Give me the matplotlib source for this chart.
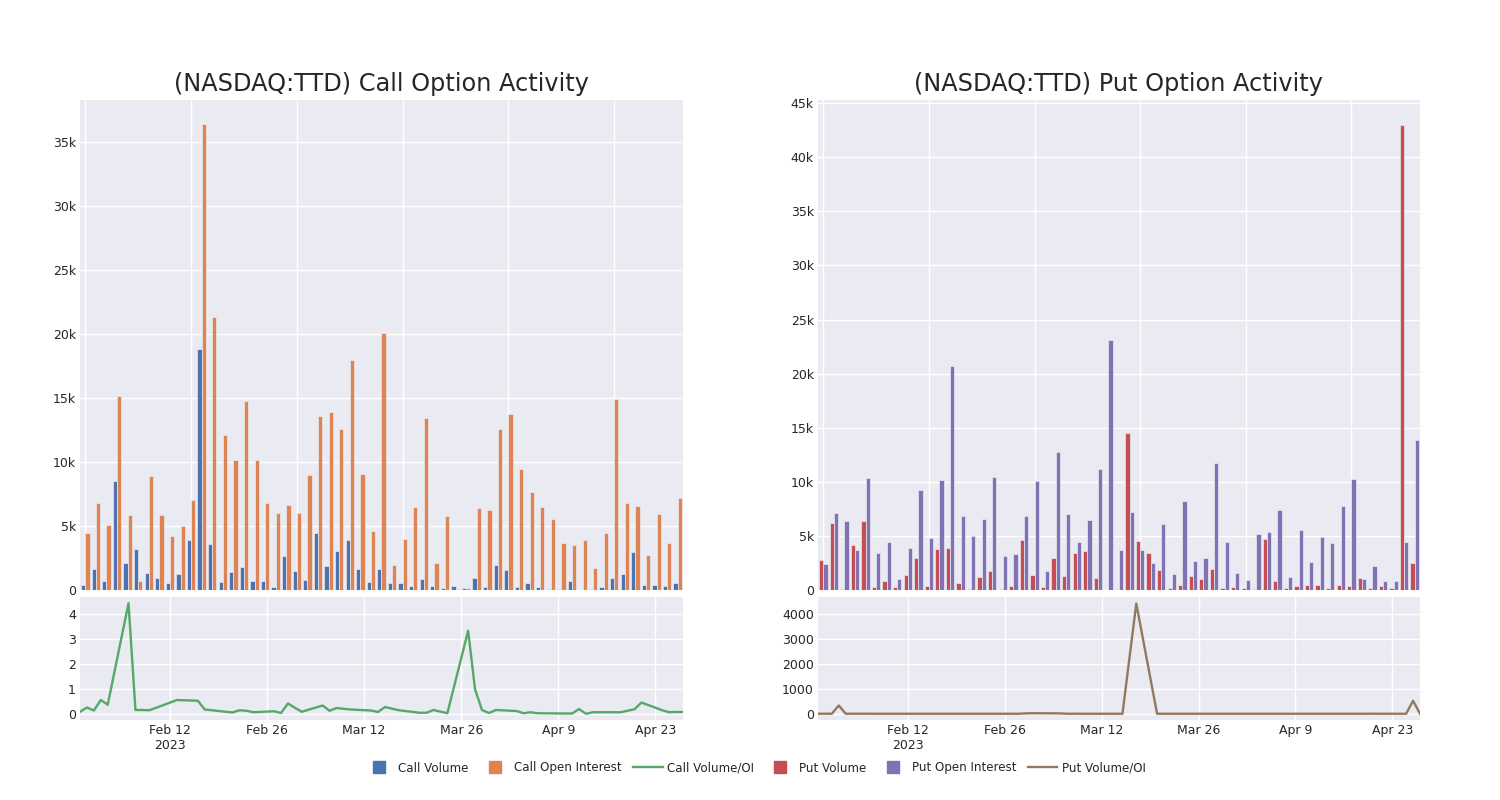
import matplotlib
matplotlib.use('Agg')
import matplotlib.pyplot as plt
import matplotlib.dates as mdates
import matplotlib.ticker as mticker
from matplotlib.lines import Line2D
import numpy as np
import pandas as pd

plt.rcParams['font.family'] = ['DejaVu Sans']

dates = ['2023-01-30', '2023-01-31', '2023-02-01', '2023-02-02', '2023-02-03',
         '2023-02-06', '2023-02-07', '2023-02-08', '2023-02-09', '2023-02-10',
         '2023-02-13', '2023-02-16', '2023-02-17', '2023-02-21', '2023-02-22',
         '2023-02-23', '2023-02-24', '2023-02-27', '2023-02-28', '2023-03-01',
         '2023-03-02', '2023-03-03', '2023-03-06', '2023-03-07', '2023-03-08',
         '2023-03-09', '2023-03-10', '2023-03-13', '2023-03-14', '2023-03-15',
         '2023-03-17', '2023-03-20', '2023-03-21', '2023-03-22', '2023-03-24',
         '2023-03-27', '2023-03-28', '2023-03-29', '2023-03-30', '2023-03-31',
         '2023-04-03', '2023-04-04', '2023-04-05', '2023-04-06', '2023-04-10',
         '2023-04-11', '2023-04-12', '2023-04-13', '2023-04-14', '2023-04-17',
         '2023-04-18', '2023-04-20', '2023-04-21', '2023-04-24', '2023-04-25',
         '2023-04-26', '2023-04-27']

call_volume = [360, 1670, 730, 8490, 2140, 3180, 1330, 960, 570, 1250,
               3880, 18800, 3570, 630, 1380, 1800, 680, 700, 230, 2680,
               1460, 780, 4450, 1850, 3020, 3930, 1670, 600, 1640, 520,
               570, 310, 830, 340, 180, 340, 130, 960, 230, 1950,
               1560, 260, 520, 210, 100, 100, 680, 30, 100, 260,
               960, 1250, 3000, 390, 390, 290, 550]

call_oi = [4480, 6770, 5080, 15160, 5860, 680, 8900, 5830, 4220, 5000,
           7030, 36400, 21300, 12080, 10160, 14800, 10180, 6800, 6040, 6610,
           6040, 9010, 13600, 13930, 12550, 18000, 9060, 4580, 20100, 1930,
           4010, 6510, 13460, 2140, 5810, 80, 130, 6410, 6220, 12580,
           13720, 9430, 7660, 6480, 5570, 3650, 3520, 3880, 1720, 4480,
           14950, 6770, 6540, 2730, 5960, 3670, 7160]

call_ratio = [0.09, 0.26, 0.14, 0.56, 0.37, 4.43, 0.16, 0.16, 0.15, 0.25,
              0.56, 0.53, 0.18, 0.06, 0.15, 0.13, 0.07, 0.11, 0.04, 0.42,
              0.25, 0.09, 0.34, 0.13, 0.24, 0.21, 0.18, 0.14, 0.08, 0.28,
              0.15, 0.05, 0.05, 0.16, 0.03, 3.33, 0.98, 0.16, 0.04, 0.16,
              0.12, 0.03, 0.07, 0.03, 0.02, 0.02, 0.20, 0.01, 0.07, 0.07,
              0.07, 0.19, 0.46, 0.15, 0.07, 0.08, 0.08]

put_volume = [2770, 6160, 120, 4190, 6350, 280, 830, 280, 1390, 2990,
              400, 3790, 3910, 620, 60, 1170, 1730, 120, 340, 4620,
              1360, 310, 2990, 1290, 3450, 3640, 1140, 30, 90, 14480,
              4530, 3390, 1820, 220, 430, 1330, 1020, 1910, 220, 280,
              220, 60, 4750, 860, 150, 340, 430, 430, 180, 490,
              370, 1140, 150, 400, 180, 43000, 2500]

put_oi = [2430, 7090, 6350, 3670, 10350, 3420, 4410, 1050, 3850, 9280,
          4810, 10200, 20700, 6810, 4960, 6560, 10420, 3110, 3300, 6810,
          10050, 1730, 12730, 7000, 4440, 6470, 11160, 23100, 3700, 7210,
          3730, 2530, 6070, 1510, 8200, 2650, 2990, 11740, 4440, 1540,
          960, 5210, 5390, 7430, 1230, 5580, 2590, 4870, 4350, 7800,
          10230, 1050, 2190, 800, 860, 4470, 13870]

put_ratio = [1.1, 0.9, 0.5, 330, 0.6, 1.0, 0.2, 0.3, 0.4, 0.3,
             0.1, 0.4, 0.2, 0.1, 0.0, 0.2, 0.2, 0.0, 0.1, 15,
             20, 20, 15, 0.2, 0.8, 0.6, 0.1, 0.0, 0.0, 0.0,
             4410, 1.3, 0.3, 0.1, 0.1, 0.5, 0.3, 0.2, 0.0, 0.2,
             0.2, 0.0, 0.9, 0.1, 0.1, 0.1, 0.2, 0.1, 0.0, 0.1,
             0.0, 1.1, 0.1, 0.5, 0.2, 520, 0.2]

# colours
BG = '#EAEAF2'
C_BLUE = '#4C72B0'
C_ORANGE = '#DD8452'
C_GREEN = '#55A868'
C_RED = '#C44E52'
C_PURPLE = '#8172B3'
C_BROWN = '#937860'
TXT = '#262626'

W, H = 1500, 800
fig = plt.figure(figsize=(15, 8), dpi=100)
fig.patch.set_facecolor('white')


def fr(x0, y0, x1, y1):
    return [x0 / W, 1 - y1 / H, (x1 - x0) / W, (y1 - y0) / H]


def style(ax):
    ax.set_facecolor(BG)
    for s in ax.spines.values():
        s.set_visible(False)
    ax.grid(True, color='white', linewidth=1.0)
    ax.set_axisbelow(True)
    ax.tick_params(length=0, labelsize=9, colors=TXT, pad=3)


def kfmt(v, pos):
    if v == 0:
        return '0'
    return f'{int(round(v / 1000))}k'


dts = pd.to_datetime(dates)
x = np.arange(len(dates))
tick_dates = pd.to_datetime(['2023-02-12', '2023-02-26', '2023-03-12',
                             '2023-03-26', '2023-04-09', '2023-04-23'])
tick_labels = ['Feb 12\n2023', 'Feb 26', 'Mar 12', 'Mar 26', 'Apr 9', 'Apr 23']


def bar_panel(ax, v1, v2, c1, c2, ymax, step):
    style(ax)
    ax.bar(x - 0.2, v1, width=0.4, color=c1, edgecolor=BG, linewidth=0.5)
    ax.bar(x + 0.2, v2, width=0.4, color=c2, edgecolor=BG, linewidth=0.5)
    ax.set_xlim(-0.5, len(dates) - 0.5)
    ax.set_ylim(0, ymax)
    ax.set_xticks(np.arange(0, len(dates), 10))
    ax.set_xticklabels([])
    ax.yaxis.set_major_locator(mticker.MultipleLocator(step))
    ax.yaxis.set_major_formatter(mticker.FuncFormatter(kfmt))


def line_panel(ax, vals, color, ylim, ystep):
    style(ax)
    ax.plot(dts, vals, color=color, linewidth=1.7)
    ax.set_xlim(dts[0], dts[-1])
    ax.set_ylim(*ylim)
    ax.set_xticks(tick_dates)
    ax.set_xticklabels(tick_labels)
    ax.yaxis.set_major_locator(mticker.MultipleLocator(ystep))
    ax.yaxis.set_major_formatter(mticker.FuncFormatter(lambda v, p: f'{int(round(v))}'))


# Left (calls)
axc = fig.add_axes(fr(80, 100, 683, 590))
bar_panel(axc, call_volume, call_oi, C_BLUE, C_ORANGE, 38300, 5000)
axcl = fig.add_axes(fr(80, 597, 683, 720))
line_panel(axcl, call_ratio, C_GREEN, (-0.24, 4.68), 1)

# Right (puts)
axp = fig.add_axes(fr(818, 100, 1420, 590))
bar_panel(axp, put_volume, put_oi, C_RED, C_PURPLE, 45300, 5000)
axpl = fig.add_axes(fr(818, 597, 1420, 720))
line_panel(axpl, put_ratio, C_BROWN, (-250, 4670), 1000)

fig.text(382 / W, 1 - 84 / H, '(NASDAQ:TTD) Call Option Activity',
         ha='center', va='center', fontsize=17.3, color=TXT)
fig.text(1119 / W, 1 - 84 / H, '(NASDAQ:TTD) Put Option Activity',
         ha='center', va='center', fontsize=17.3, color=TXT)

handles = [
    Line2D([], [], marker='s', linestyle='none', markersize=9, color=C_BLUE),
    Line2D([], [], marker='s', linestyle='none', markersize=9, color=C_ORANGE),
    Line2D([], [], color=C_GREEN, linewidth=1.7),
    Line2D([], [], marker='s', linestyle='none', markersize=9, color=C_RED),
    Line2D([], [], marker='s', linestyle='none', markersize=9, color=C_PURPLE),
    Line2D([], [], color=C_BROWN, linewidth=1.7),
]
labels = ['Call Volume', 'Call Open Interest', 'Call Volume/OI',
          'Put Volume', 'Put Open Interest', 'Put Volume/OI']
leg = fig.legend(handles, labels, loc='center', bbox_to_anchor=(755 / W, 1 - 768 / H),
                 ncol=6, frameon=False, fontsize=8.6, handlelength=2.45,
                 handletextpad=0.35, columnspacing=1.0)
for t in leg.get_texts():
    t.set_color(TXT)

fig.savefig('out.png', dpi=100, facecolor='white')
